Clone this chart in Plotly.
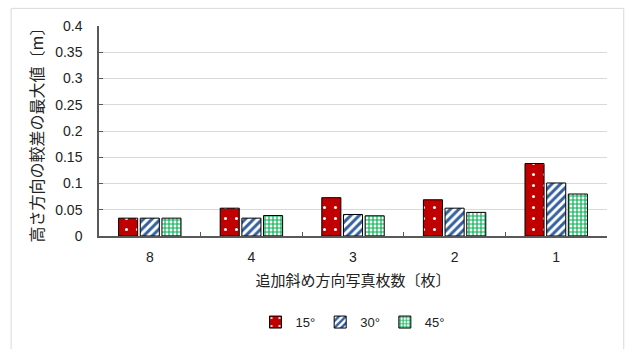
import plotly.graph_objects as go

categories = ["8", "4", "3", "2", "1"]
series_names = ["15°", "30°", "45°"]
v15 = [0.034, 0.053, 0.073, 0.069, 0.138]
v30 = [0.034, 0.034, 0.041, 0.053, 0.101]
v45 = [0.034, 0.039, 0.0385, 0.045, 0.080]
y_ticks = [0, 0.05, 0.1, 0.15, 0.2, 0.25, 0.3, 0.35, 0.4]
y_ticklabels = ["0", "0.05", "0.1", "0.15", "0.2", "0.25", "0.3", "0.35", "0.4"]

FONT = "Liberation Sans, Noto Sans CJK JP, sans-serif"
JFONT = "Noto Sans CJK JP, sans-serif"
TXT = "#222222"

patterns = [
    dict(shape=".", fgcolor="white", bgcolor="#C00000", size=11, solidity=0.06, fillmode="replace"),
    dict(shape="/", fgcolor="#35609E", bgcolor="white", size=6, solidity=0.5, fillmode="replace"),
    dict(shape="+", fgcolor="#00B050", bgcolor="white", size=4, solidity=0.5, fillmode="replace"),
]

fig = go.Figure()
for name, vals, pat in zip(series_names, [v15, v30, v45], patterns):
    fig.add_trace(go.Bar(
        x=categories, y=vals, name=name,
        marker=dict(pattern=pat, line=dict(color="black", width=1)),
    ))

fig.update_layout(
    width=625, height=349,
    margin=dict(l=99, r=18, t=26, b=108),
    paper_bgcolor="white", plot_bgcolor="white",
    barmode="group", bargap=0.36, bargroupgap=0.12,
    font=dict(family=FONT, size=13, color=TXT),
    showlegend=True,
    legend=dict(orientation="h", x=0.5, xanchor="center", y=-0.41, yanchor="middle",
                font=dict(size=13, color=TXT), itemwidth=30, traceorder="normal"),
    xaxis=dict(
        type="category", showline=True, linecolor="#595959", linewidth=1.5,
        ticks="inside", tickson="boundaries", ticklen=4, tickcolor="#595959",
        tickfont=dict(size=14, color=TXT), ticklabelstandoff=7,
        title=dict(text="追加斜め方向写真枚数〔枚〕", font=dict(family=JFONT, size=15, color=TXT), standoff=12),
    ),
    yaxis=dict(
        range=[0, 0.4], tickvals=y_ticks, ticktext=y_ticklabels,
        showline=True, linecolor="#595959", linewidth=1.5,
        ticks="inside", ticklen=4, tickcolor="#595959",
        showgrid=True, gridcolor="#D9D9D9", gridwidth=1,
        tickfont=dict(size=14, color=TXT), ticklabelstandoff=12,
        title=dict(text="高さ方向の較差の最大値〔m〕", font=dict(family=JFONT, size=16, color=TXT), standoff=8),
        zeroline=False,
    ),
    shapes=[dict(type="rect", xref="paper", yref="paper",
                 x0=-0.173, x1=1.033, y0=-0.8, y1=1.084,
                 line=dict(color="#D9D9D9", width=1), layer="below")],
)

fig.write_html("out.html")
